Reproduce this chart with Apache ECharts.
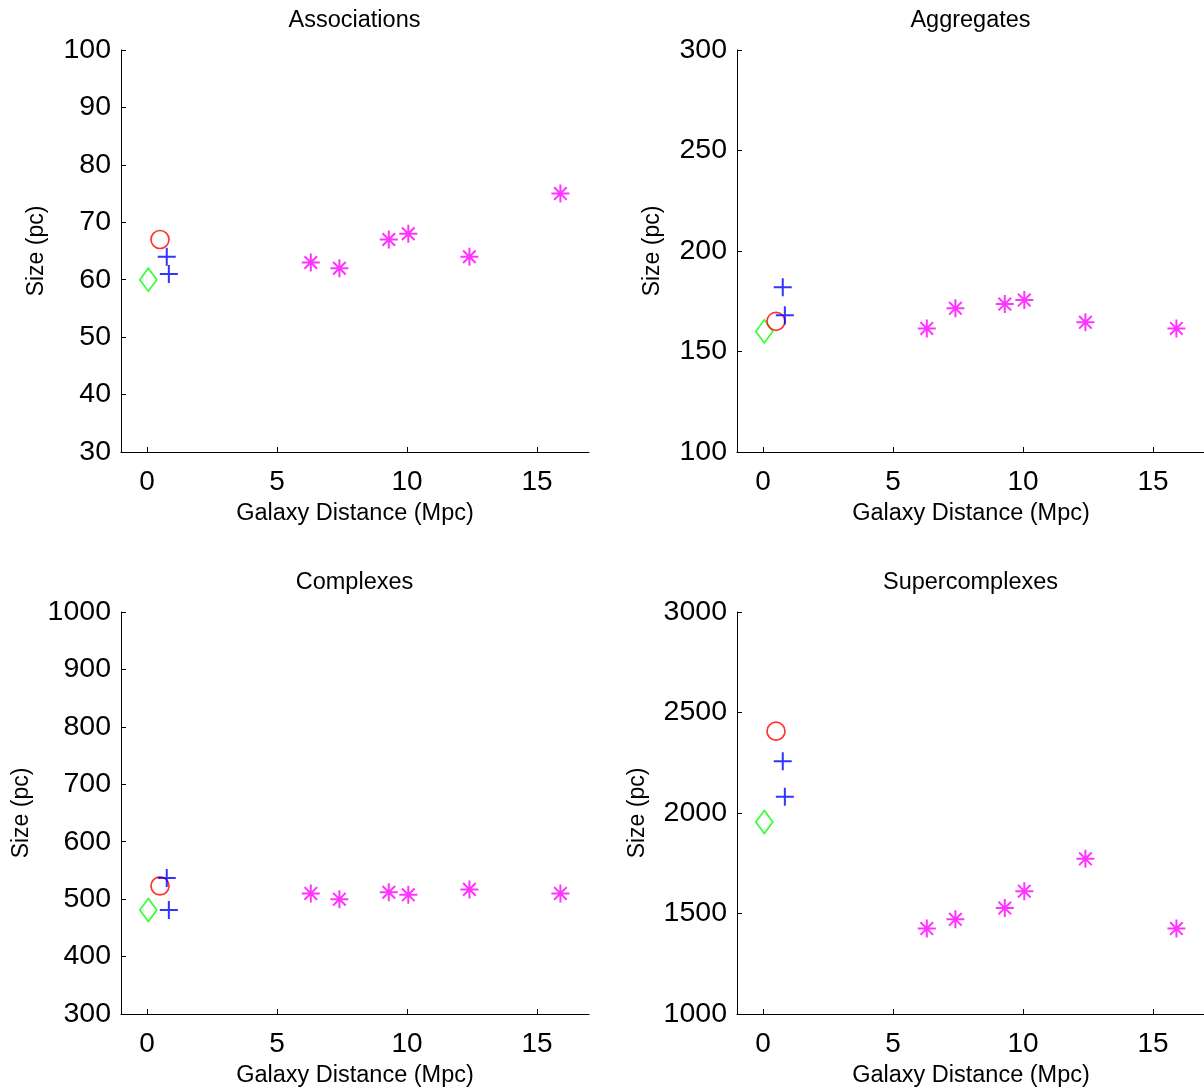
<!DOCTYPE html>
<html>
<head>
<meta charset="utf-8">
<script src="https://cdn.jsdelivr.net/npm/echarts@6/dist/echarts.min.js"></script>
<style>
  html, body { margin: 0; padding: 0; background: #ffffff; }
  #chart { width: 1204px; height: 1089px; }
</style>
</head>
<body>
<div id="chart"></div>
<script>
// Panel titles (one per structure class)
const panelTitles = ['Associations', 'Aggregates', 'Complexes', 'Supercomplexes'];

// Galaxy distances in Mpc
const diamondDist = 0.05;
const circleDist = 0.5;
const plusDist = [0.76, 0.84];
const starDist = [6.3, 7.4, 9.3, 10.05, 12.4, 15.9];

// Characteristic sizes in pc, one entry per panel
const diamondSize = [60, 160, 481, 1955];
const circleSize = [67, 165, 523, 2407];
const plusSize = [
  [64, 61],
  [182, 168],
  [537, 481],
  [2257, 2081]
];
const starSize = [
  [63, 62, 67, 68, 64, 75],
  [161.5, 171.5, 173.6, 175.6, 164.5, 161.5],
  [510, 500, 512, 507.5, 517, 510],
  [1425, 1471, 1527, 1611, 1772, 1425]
];

// Axis ranges and ticks
const xMin = -1, xMax = 17;
const xTicks = [0, 5, 10, 15];
const yMin = [30, 100, 300, 1000];
const yMax = [100, 300, 1000, 3000];
const yStep = [10, 50, 100, 500];

// Panel placement
const gridLeft = [121, 737, 121, 737];
const gridTop = [50, 50, 612, 612];
const gridW = 468, gridH = 402;
const yNameGap = [73, 73, 88, 88];

const FONT = 'Liberation Sans, Arial, Helvetica, sans-serif';

const plusPath = 'path://M-1,0L1,0M0,-1L0,1';
const starPath = 'path://M-1,0L1,0M0,-1L0,1M-0.7,-0.7L0.7,0.7M-0.7,0.7L0.7,-0.7';

const plain = v => String(v);

const grids = [], xAxes = [], yAxes = [], titles = [], series = [];

for (let i = 0; i < 4; i++) {
  grids.push({
    left: gridLeft[i], top: gridTop[i], width: gridW, height: gridH,
    containLabel: false, outerBoundsMode: 'none'
  });
  titles.push({
    text: panelTitles[i],
    left: gridLeft[i] + gridW / 2 - 0.5,
    top: gridTop[i] - 41,
    textAlign: 'center',
    padding: 0,
    textStyle: { fontFamily: FONT, fontSize: 23.5, fontWeight: 'normal', color: '#000' }
  });
  xAxes.push({
    type: 'value', gridIndex: i, min: xMin, max: xMax,
    name: 'Galaxy Distance (Mpc)', nameLocation: 'middle', nameGap: 50,
    nameTextStyle: { fontFamily: FONT, fontSize: 23.5, color: '#000' },
    axisLine: { show: true, onZero: false, lineStyle: { color: '#000', width: 1 } },
    axisTick: { show: true, inside: true, length: 5, customValues: xTicks, lineStyle: { color: '#000' } },
    axisLabel: { show: true, customValues: xTicks, margin: 16, formatter: plain, fontFamily: FONT, fontSize: 28, color: '#000' },
    splitLine: { show: false }
  });
  yAxes.push({
    type: 'value', gridIndex: i, min: yMin[i], max: yMax[i], interval: yStep[i],
    name: 'Size (pc)', nameLocation: 'middle', nameGap: yNameGap[i],
    nameTextStyle: { fontFamily: FONT, fontSize: 23, color: '#000' },
    axisLine: { show: true, onZero: false, lineStyle: { color: '#000', width: 1 } },
    axisTick: { show: true, inside: true, length: 5, lineStyle: { color: '#000' } },
    axisLabel: { show: true, margin: 10, formatter: plain, fontFamily: FONT, fontSize: 28.5, color: '#000' },
    splitLine: { show: false }
  });

  const common = { type: 'scatter', xAxisIndex: i, yAxisIndex: i, silent: true, animation: false, emphasis: { disabled: true } };

  series.push(Object.assign({}, common, {
    symbol: 'diamond', symbolSize: [17, 23],
    itemStyle: { color: 'rgba(0,0,0,0)', borderColor: '#00ff00', borderWidth: 1.7 },
    data: [[diamondDist, diamondSize[i]]]
  }));
  series.push(Object.assign({}, common, {
    symbol: 'circle', symbolSize: 18,
    itemStyle: { color: 'rgba(0,0,0,0)', borderColor: '#ff0000', borderWidth: 1.7 },
    data: [[circleDist, circleSize[i]]]
  }));
  series.push(Object.assign({}, common, {
    symbol: plusPath, symbolSize: 18,
    itemStyle: { color: 'rgba(0,0,0,0)', borderColor: '#0000ff', borderWidth: 2 },
    data: plusDist.map((d, k) => [d, plusSize[i][k]])
  }));
  series.push(Object.assign({}, common, {
    symbol: starPath, symbolSize: 18,
    itemStyle: { color: 'rgba(0,0,0,0)', borderColor: '#ff00ff', borderWidth: 2 },
    data: starDist.map((d, k) => [d, starSize[i][k]])
  }));
}

const chart = echarts.init(document.getElementById('chart'), null, { renderer: 'canvas' });
chart.setOption({
  backgroundColor: '#ffffff',
  animation: false,
  title: titles,
  grid: grids,
  xAxis: xAxes,
  yAxis: yAxes,
  series: series
});
</script>
</body>
</html>
